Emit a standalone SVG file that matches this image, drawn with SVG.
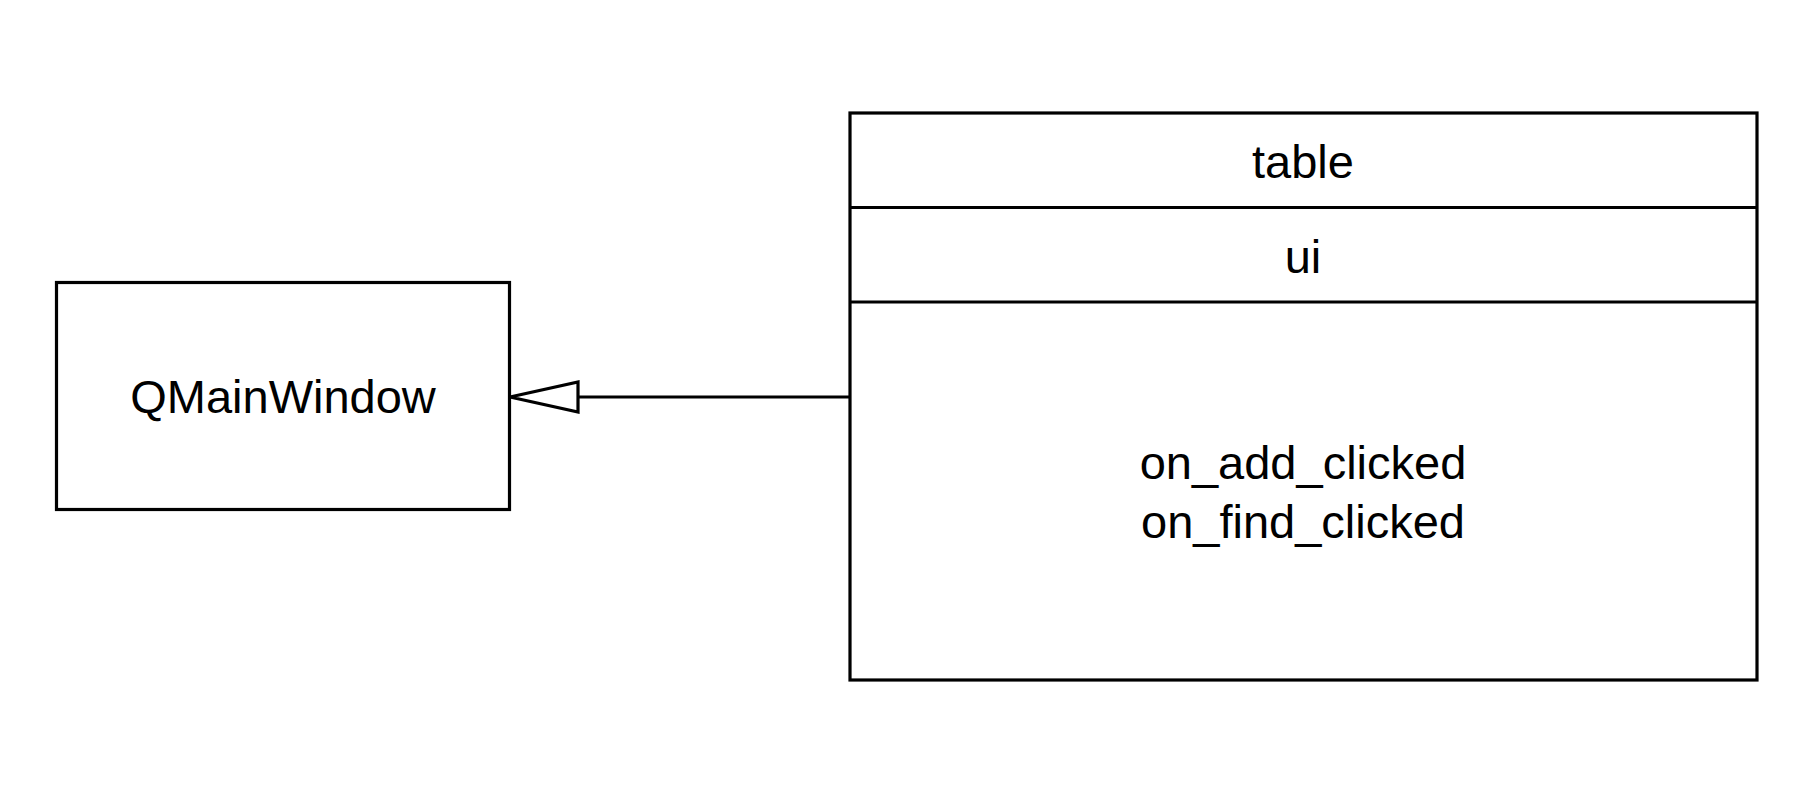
<svg xmlns="http://www.w3.org/2000/svg" width="1808" height="800" viewBox="0 0 1808 800">
<style>
.box{fill:#fff;stroke:#000;stroke-width:3.2}
.ln{stroke:#000;stroke-width:3.2;fill:none}
.t{font-family:"Liberation Sans",Arial,sans-serif;font-size:47px;fill:#000;text-anchor:middle}
</style>
<rect width="1808" height="800" fill="#fff"/>
<g id="QMainWindow">
<rect class="box" x="56.5" y="282.5" width="453" height="227"/>
<text class="t" x="283" y="413">QMainWindow</text>
</g>
<g id="MainWindow">
<rect class="box" x="850" y="113" width="907" height="567"/>
<line class="ln" x1="850" y1="207.5" x2="1757" y2="207.5"/>
<line class="ln" x1="850" y1="302" x2="1757" y2="302"/>
<text class="t" x="1303" y="178">table</text>
<text class="t" x="1303" y="273">ui</text>
<text class="t" x="1303" y="479">on_add_clicked</text>
<text class="t" x="1303" y="538">on_find_clicked</text>
</g>
<g id="connectors">
<line class="ln" x1="850" y1="397" x2="578" y2="397"/>
<polygon class="ln" points="510,397 578,382 578,412" fill="#fff" stroke-linejoin="miter"/>
</g>
</svg>
